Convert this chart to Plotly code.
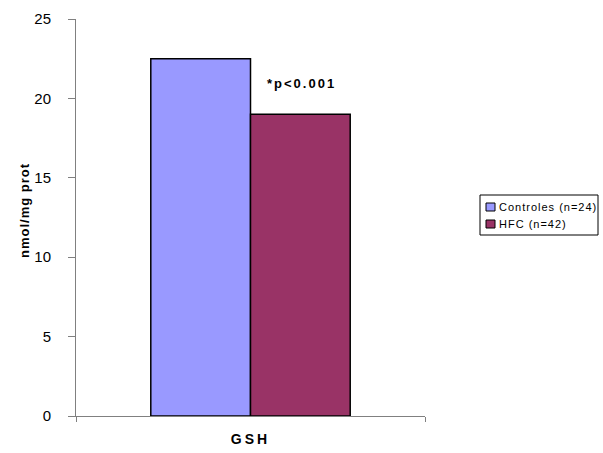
import plotly.graph_objects as go

categories = ["GSH"]
series_names = ["Controles (n=24)", "HFC (n=42)"]
series_values = [[22.5], [19.0]]
series_colors = ["#9999FF", "#993366"]
y_ticks = [0, 5, 10, 15, 20, 25]
annotation_text = "*p<0.001"
annotation_y = 20.95
y_title = "nmol/mg prot"

FONT = "Liberation Sans, Arial, sans-serif"
W, H = 603, 453
L, R, T, B = 76, 425, 19, 416  # plot area in pixels


def px(x):
    return (x - L) / (R - L)


def py(y):
    return (B - y) / (B - T)


def spaced(text, sp, bold=False):
    s = '<span style="letter-spacing:%spx">%s</span>' % (sp, text.replace("<", "&lt;"))
    return "<b>" + s + "</b>" if bold else s


fig = go.Figure()
for name, vals, col in zip(series_names, series_values, series_colors):
    fig.add_trace(go.Bar(
        x=categories, y=vals, name=name, showlegend=False,
        marker=dict(color=col, line=dict(color="#000000", width=1.5)),
    ))

fig.add_annotation(
    x=px(301), xref="paper", y=annotation_y, yref="y",
    text=spaced(annotation_text, 2, bold=True), showarrow=False,
    font=dict(family=FONT, size=13, color="#000000"),
)

# y axis title
fig.add_annotation(
    x=px(25), xref="paper", y=py(210), yref="paper", textangle=-90,
    xanchor="center", yanchor="middle",
    text=spaced(y_title, 1, bold=True), showarrow=False,
    font=dict(family=FONT, size=13, color="#000000"),
)

# legend drawn as box, swatches and labels
shapes = [dict(type="rect", xref="paper", yref="paper",
               x0=px(480), x1=px(598), y0=py(235), y1=py(195),
               line=dict(color="#000000", width=1), fillcolor="white", layer="below")]
row_y = [207, 224]
for name, col, ry in zip(series_names, series_colors, row_y):
    shapes.append(dict(type="rect", xref="paper", yref="paper",
                       x0=px(486), x1=px(495), y0=py(ry + 4), y1=py(ry - 4),
                       line=dict(color="#000000", width=1), fillcolor=col))
    fig.add_annotation(x=px(497), y=py(ry), xref="paper", yref="paper",
                       xanchor="left", yanchor="middle", showarrow=False,
                       text=spaced(name, 1), font=dict(family=FONT, size=11, color="#000000"))

fig.update_layout(
    width=W, height=H,
    paper_bgcolor="white", plot_bgcolor="white",
    margin=dict(l=L, r=W - R, t=T, b=H - B, autoexpand=False),
    barmode="group", bargap=0.4286, bargroupgap=0,
    font=dict(family=FONT, color="#000000"),
    showlegend=False,
    shapes=shapes,
    xaxis=dict(
        type="category", showline=True, linecolor="#808080", linewidth=1,
        ticks="outside", tickson="boundaries", ticklen=5, tickcolor="#808080",
        tickfont=dict(family=FONT, size=14, color="#000000"),
        ticktext=[spaced(c, 3, bold=True) for c in categories], tickvals=categories,
        ticklabelstandoff=10,
        showgrid=False, zeroline=False,
    ),
    yaxis=dict(
        range=[0, 25], tickvals=y_ticks, showline=True, linecolor="#808080",
        linewidth=1, ticks="outside", ticklen=7, tickcolor="#808080",
        tickfont=dict(family=FONT, size=15, color="#000000"),
        ticklabelstandoff=14,
        showgrid=False, zeroline=False,
    ),
)

fig.write_html("out.html", config={"displayModeBar": False},
               post_script="document.body.style.margin='0';")
